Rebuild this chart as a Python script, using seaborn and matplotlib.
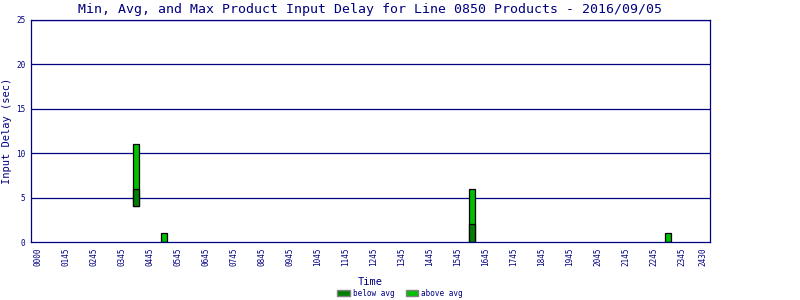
import matplotlib
matplotlib.use("Agg")
import matplotlib.pyplot as plt
import seaborn as sns
import pandas as pd
from matplotlib.patches import Patch

# ---- data ----
tick_labels = ["0000", "0145", "0245", "0345", "0445", "0545", "0645", "0745",
               "0845", "0945", "1045", "1145", "1245", "1345", "1445", "1545",
               "1645", "1745", "1845", "1945", "2045", "2145", "2245", "2345", "2430"]
slot = [3.5, 4.5, 15.5, 22.5]          # bar positions along the time axis (tick units)
min_delay = [4, 0, 0, 0]
avg_delay = [6, 0, 2, 0]
max_delay = [11, 1, 6, 1]
y_ticks = [0, 5, 10, 15, 20, 25]

NAVY = "#000080"
DARK = "#008000"
LIGHT = "#00C000"
FONT = "DejaVu Sans Mono"

sns.set_style("white")
plt.rcParams["font.family"] = [FONT, "DejaVu Sans"]

fig = plt.figure(figsize=(8, 3), dpi=100)
ax = fig.add_axes([31 / 800, 1 - 242 / 300, (710 - 31) / 800, (242 - 20) / 300])

df = pd.DataFrame({"slot": slot, "mn": min_delay, "avg": avg_delay, "mx": max_delay})
df["upper"] = df["mx"] - df["mn"]
df["lower"] = df["avg"] - df["mn"]

# full bar min -> max (above avg colour), then min -> avg (below avg colour)
sns.barplot(data=df, x="slot", y="upper", native_scale=True, width=0.19,
            color=LIGHT, saturation=1, edgecolor="black", linewidth=0.9,
            bottom=df["mn"].to_numpy(), ax=ax, zorder=3, errorbar=None)
sns.barplot(data=df, x="slot", y="lower", native_scale=True, width=0.19,
            color=DARK, saturation=1, edgecolor="black", linewidth=0.9,
            bottom=df["mn"].to_numpy(), ax=ax, zorder=4, errorbar=None)

# x positions of tick labels
xpos = list(range(len(tick_labels) - 1)) + [23.75]
ax.set_xlim(-0.25, 24.0)
ax.set_ylim(0, 25)
ax.set_xticks(xpos)
ax.set_xticklabels(tick_labels, rotation=90, fontsize=5.5, color=NAVY)
ax.set_yticks(y_ticks)
ax.set_yticklabels([str(v) for v in y_ticks], fontsize=5.5, color=NAVY)
ax.tick_params(axis="both", length=0, pad=4)

for v in y_ticks[1:]:
    ax.axhline(v, color=NAVY, linewidth=0.9, zorder=1)
for s in ax.spines.values():
    s.set_color(NAVY)
    s.set_linewidth(0.9)
    s.set_visible(True)
    s.set_zorder(5)

ax.set_xlabel("Time", fontsize=7.5, color=NAVY, labelpad=8)
ax.set_ylabel("Input Delay (sec)", fontsize=7.5, color=NAVY, labelpad=3)
ax.set_title("Min, Avg, and Max Product Input Delay for Line 0850 Products - 2016/09/05",
             fontsize=9.5, color=NAVY, pad=5)

handles = [Patch(facecolor=DARK, edgecolor="#808080", label="below avg"),
           Patch(facecolor=LIGHT, edgecolor="#808080", label="above avg")]
leg = fig.legend(handles=handles, loc="lower center", bbox_to_anchor=(0.5, -0.015),
                 ncol=2, frameon=False, fontsize=5.5, handlelength=1.6, handleheight=0.9,
                 handletextpad=0.4, columnspacing=1.5)
for t in leg.get_texts():
    t.set_color(NAVY)

fig.savefig("out.png", dpi=100)
